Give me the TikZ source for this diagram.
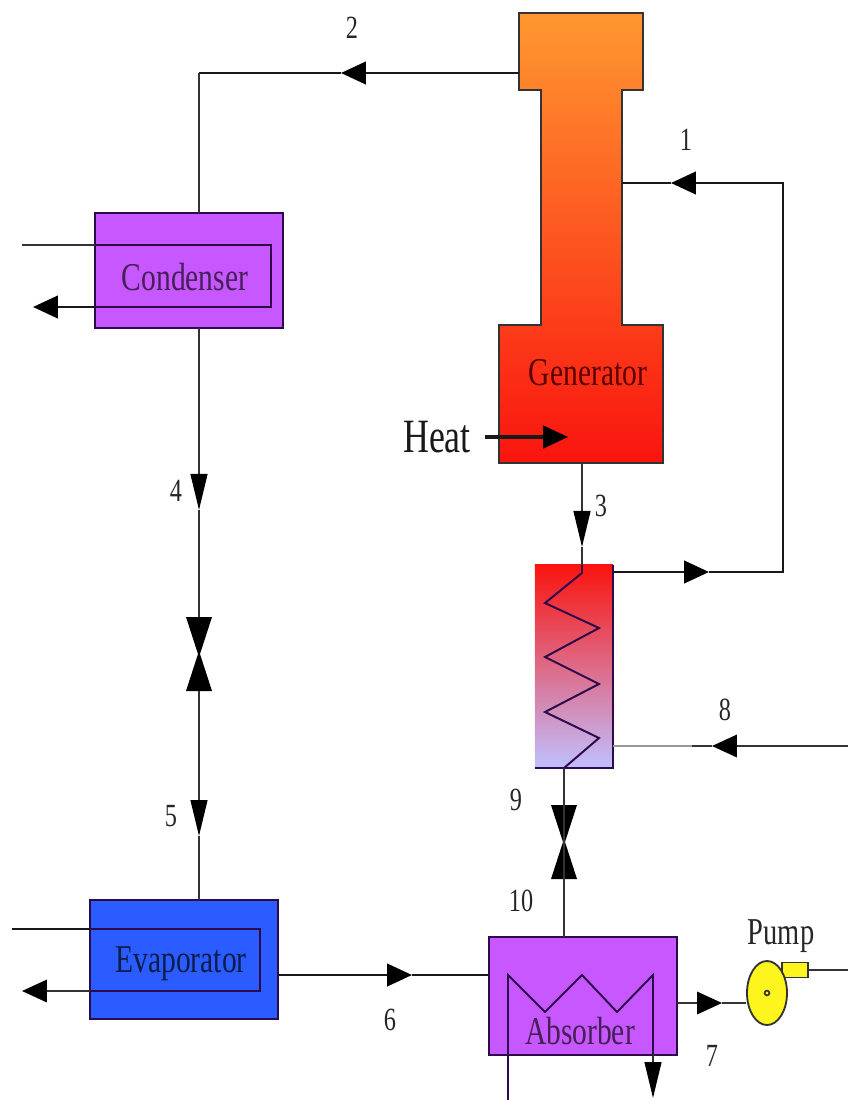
\documentclass[tikz,border=0pt]{standalone}
\usepackage{fontspec}
\setmainfont[FakeStretch=0.75]{Liberation Serif}
\usetikzlibrary{arrows.meta,shapes}
\definecolor{purplebox}{RGB}{199,88,255}
\definecolor{bluebox}{RGB}{42,92,255}
\definecolor{orangetop}{RGB}{255,152,48}
\definecolor{redbottom}{RGB}{250,20,15}
\definecolor{lilacbottom}{RGB}{192,192,255}
\definecolor{pumpyellow}{RGB}{255,245,30}
\definecolor{boxline}{RGB}{45,10,75}
\newcommand{\tikzpicunit}{0.025cm}
\tikzstyle{pipe}=[line width=1.8pt,black!90]
\tikzstyle{thinpipe}=[line width=1.3pt,black!80]
\tikzstyle{flowtip}=[-{Triangle[length=0.62cm,width=0.56cm,color=black,fill=black]}]
\tikzstyle{slimtip}=[-{Triangle[length=0.9cm,width=0.42cm,color=black,fill=black]}]
\tikzstyle{box}=[rectangle,draw=boxline,line width=1.6pt,inner sep=0pt]
\tikzstyle{coil}=[line width=1.4pt,boxline]
\tikzstyle{num}=[font=\fontsize{23}{26}\selectfont,black!85]
\tikzstyle{boxname}=[font=\fontsize{28}{32}\selectfont]
\tikzset{valve/.pic={
  \fill[black] (-13,-37) -- (13,-37) -- (1,0) -- (13,37) -- (-13,37) -- (-1,0) -- cycle;
}}

\begin{document}
\begin{tikzpicture}[x=\tikzpicunit,y=-\tikzpicunit]
    \useasboundingbox (0,0) rectangle (848,1100);
    % generator column
    \draw[line width=1.4pt,draw=black!80,top color=orangetop,bottom color=redbottom]
      (519,13) -- (643,13) -- (643,90) -- (622,90) -- (622,325) -- (663,325) -- (663,463)
      -- (499,463) -- (499,325) -- (541,325) -- (541,90) -- (519,90) -- cycle;
    \node[boxname,red!35!black] (generator) at (588,373) {Generator};
    % boxes
    \node[box,fill=purplebox,minimum width=4.7cm,minimum height=2.875cm] (condenser) at (189,270.5) {};
    \node[box,fill=bluebox,minimum width=4.7cm,minimum height=2.975cm] (evaporator) at (184,959.5) {};
    \node[box,fill=purplebox,minimum width=4.7cm,minimum height=2.95cm] (absorber) at (583,996) {};
    \node[rectangle,inner sep=0pt,top color=redbottom,bottom color=lilacbottom,minimum width=1.95cm,minimum height=5.075cm] (exchanger) at (574,666.5) {};
    \draw[box] (exchanger.north east) -- (exchanger.south east) -- (exchanger.south west);
    \node[boxname,black!65!purplebox] (condenserlabel) at (185,277) {Condenser};
    \node[boxname,black!70!bluebox] (evaporatorlabel) at (181,964) {Evaporator};
    \node[boxname,black!65!purplebox] (absorberlabel) at (580,1031) {Absorber};
    % ends on the boxes
    \coordinate (g2) at (519,73);
    \coordinate (g1) at (622,183);
    \coordinate (g3) at (582,463);
    \coordinate (c2) at (199,213);
    \coordinate (c4) at (199,328);
    \coordinate (e5) at (199,900);
    \coordinate (e6) at (278,975);
    \coordinate (a6) at (489,975);
    \coordinate (a7) at (677,1003);
    \coordinate (a10) at (564,937);
    \coordinate (x3) at (582,565);
    \coordinate (x1) at (613,572);
    \coordinate (x8) at (613,746);
    \coordinate (x9) at (564,768);
    \coordinate (v1) at (199,654);
    \coordinate (v2) at (564,842);
    \pic at (v1) {valve};
    \pic at (v2) {valve};
    % stream 2
    \draw[pipe,flowtip] (g2) -- (341,73);
    \draw[pipe] (341,73) -- (199,73);
    \draw[thinpipe] (199,73) -- (c2);
    % streams 1 and 3
    \draw[pipe,flowtip] (x1) -- (709,572);
    \draw[pipe] (709,572) -- (783,572) -- (783,183) -- (695,183);
    \draw[pipe,flowtip] (695,183) -- (671,183);
    \draw[pipe] (671,183) -- (g1);
    \draw[thinpipe,slimtip] (g3) -- (582,547);
    \draw[thinpipe] (582,547) -- (x3);
    % streams 4 and 5
    \draw[thinpipe,slimtip] (c4) -- (199,510);
    \draw[thinpipe] (199,510) -- (199,617);
    \draw[thinpipe,slimtip] (199,691) -- (199,836);
    \draw[thinpipe] (199,836) -- (e5);
    % streams 8, 9, 10
    \draw[thinpipe,flowtip] (848,746) -- (712,746);
    \draw[thinpipe] (712,746) -- (692,746);
    \draw[thinpipe,black!40] (692,746) -- (x8);
    \draw[thinpipe] (x9) -- (v2);
    \draw[thinpipe] (v2) -- (a10);
    % streams 6, 7
    \draw[pipe,flowtip] (e6) -- (412,975);
    \draw[pipe] (412,975) -- (a6);
    \draw[thinpipe,flowtip] (a7) -- (722,1003);
    % pump
    \node[draw=black!80,line width=1.3pt,fill=pumpyellow,minimum width=0.65cm,minimum height=0.375cm,inner sep=0pt] (outlet) at (795,970) {};
    \node[ellipse,draw=black!80,line width=1.3pt,fill=pumpyellow,minimum width=1cm,minimum height=1.6cm,inner sep=0pt] (pump) at (767,993) {};
    \node[circle,draw=black!80,line width=1.2pt,inner sep=0pt,minimum size=0.12cm] (shaft) at (767,993) {};
    \draw[thinpipe] (722,1003) -- (pump.west |- 722,1003);
    \draw[thinpipe] (outlet.east) -- (848,970);
    % condenser and evaporator coils
    \draw[thinpipe] (22,245) -- (95,245);
    \draw[coil] (95,245) -- (271,245) -- (271,307) -- (95,307);
    \draw[pipe,flowtip] (95,307) -- (33,307);
    \draw[pipe] (12,929) -- (90,929);
    \draw[coil] (90,929) -- (260,929) -- (260,991) -- (90,991);
    \draw[thinpipe,flowtip] (90,991) -- (22,991);
    % exchanger coil
    \draw[coil] (x3) -- (582,573) -- (545,603) -- (599,628) -- (545,657) -- (599,684) -- (545,712) -- (599,738) -- (x9);
    % absorber coil
    \draw[coil] (508,1100) -- (508,975) -- (545,1012) -- (582,975) -- (617,1012) -- (653,975) -- (653,1055);
    \draw[thinpipe,slimtip] (653,1055) -- (653,1098);
    % labels
    \node[font=\fontsize{34}{38}\selectfont,black!90] (heat) at (437,437) {Heat};
    \coordinate (h) at (568,437);
    \draw[pipe,line width=2.2pt,flowtip] (485,437) -- (h);
    \node[font=\fontsize{27}{30}\selectfont,black!85] (pumplabel) at (781,936) {Pump};
    \node[num] (n1) at (686,140) {1};
    \node[num] (n2) at (352,28) {2};
    \node[num] (n3) at (601,506) {3};
    \node[num] (n4) at (176,491) {4};
    \node[num] (n5) at (171,816) {5};
    \node[num] (n6) at (390,1020) {6};
    \node[num] (n7) at (712,1056) {7};
    \node[num] (n8) at (725,710) {8};
    \node[num] (n9) at (516,800) {9};
    \node[num] (n10) at (521,901) {10};
\end{tikzpicture}
\end{document}
